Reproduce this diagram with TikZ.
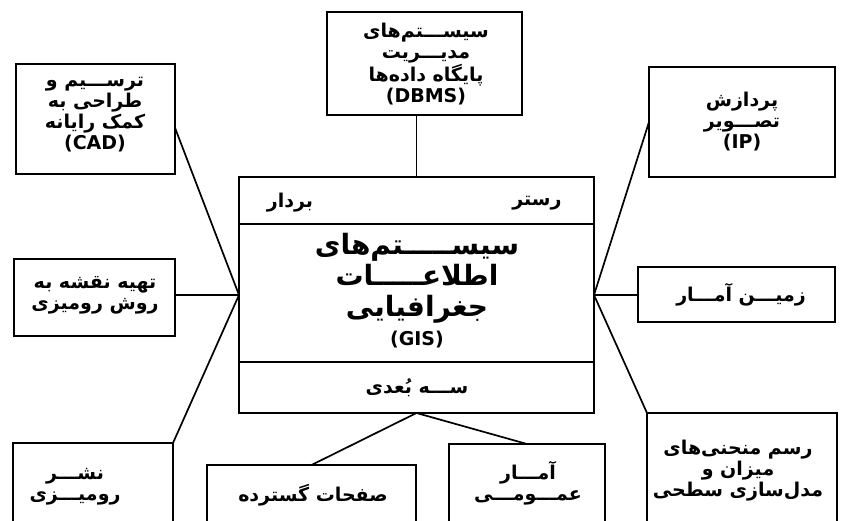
\documentclass[tikz,border=0pt]{standalone}
\usepackage{fontspec}
\usetikzlibrary{calc}
\TeXXeTstate=1
\newfontfamily\arabicfont[Script=Arabic]{DejaVu Sans}
\newcommand{\fa}[1]{\beginR #1\endR}
\tikzset{
  box/.style={draw, line width=1.7pt, inner sep=0pt, outer sep=0pt},
  link/.style={line width=1.7pt},
  txt/.style={align=center, inner sep=0pt, font=\arabicfont\bfseries\fontsize{19}{21}\selectfont},
  bigtxt/.style={align=center, inner sep=0pt, font=\arabicfont\bfseries\fontsize{28}{31}\selectfont},
}
\begin{document}
\begin{tikzpicture}[x=1pt,y=-1pt]
\useasboundingbox (0,0) rectangle (844,521);
\clip (0,0) rectangle (844,521);
% boxes
\node[box, minimum width=159pt, minimum height=110pt] (cad) at (95.5,119) {};
\node[box, minimum width=195pt, minimum height=103pt] (dbms) at (424.5,63.5) {};
\node[box, minimum width=186pt, minimum height=110pt] (ip) at (742,122) {};
\node[box, minimum width=161pt, minimum height=77pt] (map) at (94.5,297.5) {};
\node[box, minimum width=197pt, minimum height=55pt] (zamin) at (736.5,294.5) {};
\node[box, minimum width=355pt, minimum height=236pt] (gis) at (416.5,295) {};
\node[box, minimum width=160pt, minimum height=97pt] (nashr) at (93,491.5) {};
\node[box, minimum width=209pt, minimum height=75pt] (safahat) at (311.5,502.5) {};
\node[box, minimum width=156pt, minimum height=96pt] (amar) at (527,492) {};
\node[box, minimum width=190pt, minimum height=127pt] (rasm) at (742,476.5) {};
% GIS dividers
\coordinate (d1) at (239,224);
\coordinate (d2) at (239,362);
\draw[link] (d1) -- (d1 -| gis.east);
\draw[link] (d2) -- (d2 -| gis.east);
% connectors
\draw[link] ($(cad.north east)!0.58!(cad.south east)$) -- (gis.west);
\draw[link] (gis.west) -- (gis.west -| map.east);
\draw[link] (nashr.north east) -- (gis.west);
\draw[link] (gis.north) -- (gis.north |- dbms.south);
\draw[link] (ip.west) -- (gis.east);
\draw[link] (gis.east) -- (gis.east -| zamin.west);
\draw[link] (rasm.north west) -- (gis.east);
\draw[link] (gis.south) -- (safahat.north);
\draw[link] (gis.south) -- (amar.north);
% texts
\node[txt] (tcad) at (95,115) {\fa{ترســـیم و}\\\fa{طراحی به}\\\fa{کمک رایانه}\\(CAD)};
\node[txt] (tdbms) at (426,64) {\fa{سیســـتم‌های}\\\fa{مدیـــریت}\\\fa{پایگاه داده‌ها}\\(DBMS)};
\node[txt] (tip) at (742,122) {\fa{پردازش}\\\fa{تصـــویر}\\(IP)};
\node[txt] (tmap) at (95,295.5) {\fa{تهیه نقشه به}\\\fa{روش رومیزی}};
\node[txt] (tzamin) at (741,295) {\fa{زمیـــن آمـــار}};
\node[txt] (tnashr) at (75,486.5) {\fa{نشـــر}\\\fa{رومیـــزی}};
\node[txt] (tsafahat) at (313,495) {\fa{صفحات گسترده}};
\node[txt] (tamar) at (528,483.5) {\fa{آمـــار}\\\fa{عمـــومـــی}};
\node[txt] (trasm) at (738,471) {\fa{رسم منحنی‌های}\\\fa{میزان و}\\\fa{مدل‌سازی سطحی}};
\node[txt] (tbordar) at (290,203) {\fa{بردار}};
\node[txt] (traster) at (537,203) {\fa{رستر}};
\node[bigtxt] (tgis) at (417,278) {\fa{سیســـــتم‌های}\\\fa{اطلاعـــــات}\\\fa{جغرافیایی}};
\node[txt, font=\arabicfont\bfseries\fontsize{19}{22}\selectfont] (tgisen) at (417,340) {(GIS)};
\node[txt] (tse) at (417,388) {\fa{ســـه بُعدی}};
\end{tikzpicture}
\end{document}
